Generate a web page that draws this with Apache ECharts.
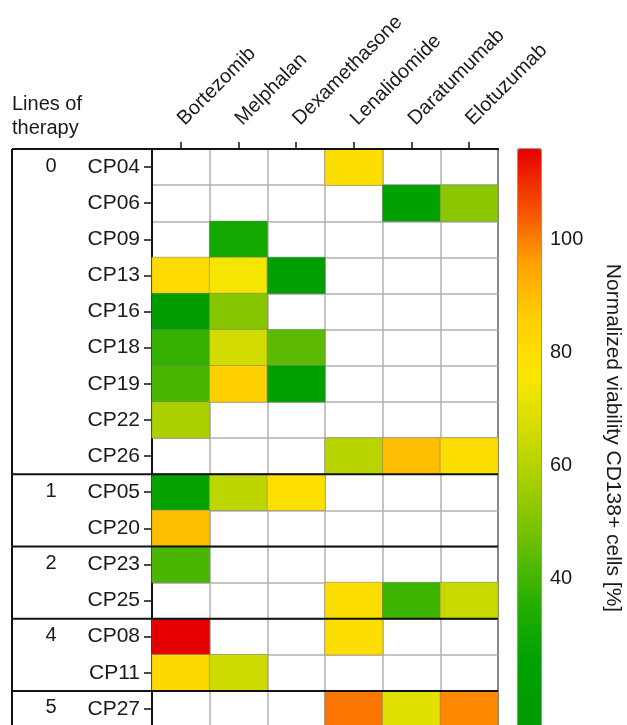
<!DOCTYPE html>
<html>
<head>
<meta charset="utf-8">
<script src="https://cdn.jsdelivr.net/npm/echarts@6/dist/echarts.min.js"></script>
<style>
html,body{margin:0;padding:0;background:#fff;}
#chart{width:627px;height:725px;}
</style>
</head>
<body>
<div id="chart"></div>
<script>
// ---- data ----
var drugs = ['Bortezomib', 'Melphalan', 'Dexamethasone', 'Lenalidomide', 'Daratumumab', 'Elotuzumab'];
var patients = ['CP04','CP06','CP09','CP13','CP16','CP18','CP19','CP22','CP26','CP05','CP20','CP23','CP25','CP08','CP11','CP27'];
var bortezomib    = [null, null, null, 81, 15, 38, 41, 58, null, 27, 90, 41, null, 116, 82, null];
var melphalan     = [null, null, 31, 75, 51, 66, 86, null, null, 62, null, null, null, null, 65, null];
var dexamethasone = [null, null, null, 20, null, 44, 25, null, null, 79, null, null, null, null, null, null];
var lenalidomide  = [80, null, null, null, null, null, null, null, 61, null, null, null, 80, 80, null, 101];
var daratumumab   = [null, 25, null, null, null, null, null, null, 90, null, null, null, 39, null, null, 70];
var elotuzumab    = [null, 52, null, null, null, null, null, null, 80, null, null, null, 64, null, null, 99];
var groupLabels = ['0', '1', '2', '4', '5'];
var groupStart  = [0, 9, 11, 13, 15];
var groupEnd    = [8, 10, 12, 14, 15];
var colorbarTicks = [40, 60, 80, 100];
var scaleMin = -4, scaleMax = 116;

var drugValues = [bortezomib, melphalan, dexamethasone, lenalidomide, daratumumab, elotuzumab];
var heat = [];
drugValues.forEach(function (arr, xi) {
  arr.forEach(function (v, yi) { if (v !== null) heat.push([xi, yi, v]); });
});
var groups = groupStart.map(function (s, i) { return [s, groupEnd[i]]; });

var FONT = 'Liberation Sans, Arial, sans-serif';
var BOX_LEFT = 12, GROUP_LABEL_X = 51;

var chart = echarts.init(document.getElementById('chart'), null, {renderer: 'canvas'});
chart.setOption({
  backgroundColor: '#fff',
  animation: false,
  title: {
    text: 'Lines of\ntherapy', left: 12, top: 92, padding: 0,
    textStyle: {fontFamily: FONT, fontSize: 20, fontWeight: 'normal', color: '#1a1a1a', lineHeight: 24}
  },
  grid: [
    {left: 152, width: 346, top: 149, height: 578, outerBoundsMode: 'none', containLabel: false, show: true, borderColor: '#111', borderWidth: 2, backgroundColor: '#fff'},
    {left: 518, width: 23, top: 149, height: 678, outerBoundsMode: 'none', containLabel: false, show: true, borderColor: '#333', borderWidth: 1, backgroundColor: 'transparent'}
  ],
  xAxis: [
    {
      type: 'category', data: drugs, position: 'top', gridIndex: 0,
      axisLine: {show: true, lineStyle: {color: '#111', width: 2}},
      axisTick: {show: true, alignWithLabel: true, length: 7, lineStyle: {color: '#111', width: 1.5}},
      axisLabel: {rotate: -45, margin: 27, fontFamily: FONT, fontSize: 20, color: '#1a1a1a'},
      splitLine: {show: true, lineStyle: {color: '#b0b0b0', width: 1.5}}
    },
    {type: 'value', gridIndex: 1, show: false, min: 0, max: 1}
  ],
  yAxis: [
    {
      type: 'category', data: patients, inverse: true, gridIndex: 0,
      axisLine: {show: true, lineStyle: {color: '#111', width: 2}},
      axisTick: {show: true, alignWithLabel: true, length: 8, lineStyle: {color: '#111', width: 1.5}},
      axisLabel: {margin: 12, fontFamily: FONT, fontSize: 21, color: '#1a1a1a'},
      splitLine: {show: true, lineStyle: {color: '#b0b0b0', width: 1.5}}
    },
    {
      type: 'value', gridIndex: 1, position: 'left', min: scaleMin, max: scaleMax,
      axisLine: {show: false}, splitLine: {show: false},
      axisTick: {show: true, inside: true, length: 4, customValues: colorbarTicks, lineStyle: {color: '#222', width: 1.2}},
      axisLabel: {show: false}
    },
    {
      type: 'value', gridIndex: 1, position: 'right', min: scaleMin, max: scaleMax,
      axisLine: {show: false}, splitLine: {show: false},
      axisTick: {show: true, inside: true, length: 4, customValues: colorbarTicks, lineStyle: {color: '#222', width: 1.2}},
      axisLabel: {show: true, customValues: colorbarTicks, margin: 9, fontFamily: FONT, fontSize: 20, color: '#1a1a1a'}
    }
  ],
  visualMap: {
    type: 'continuous', seriesIndex: 0, min: scaleMin, max: scaleMax,
    calculable: false, left: 518, top: 149, itemWidth: 23, itemHeight: 678, padding: 0,
    inRange: {color: ['#009400','#009600','#009b00','#00a200','#28af00','#69be00','#a0cd00','#d2dc00','#fae600','#ffd000','#ffa000','#f54b00','#e50000']}
  },
  graphic: [{
    type: 'text', x: 613, y: 438, rotation: -Math.PI / 2,
    style: {text: 'Normalized viability CD138+ cells [%]', font: '21px ' + FONT, fill: '#1a1a1a', align: 'center', verticalAlign: 'middle'}
  }],
  series: [
    {
      type: 'heatmap', xAxisIndex: 0, yAxisIndex: 0, data: heat,
      itemStyle: {borderColor: 'rgba(120,120,120,0.45)', borderWidth: 1},
      emphasis: {disabled: true}, z: 2
    },
    {
      type: 'custom', xAxisIndex: 0, yAxisIndex: 0, data: groups, silent: true, z: 5,
      renderItem: function (params, api) {
        var cs = params.coordSys;
        var band = api.size([0, 1])[1];
        var s = api.value(0), e = api.value(1);
        var yTop = api.coord([0, s])[1] - band / 2;
        var yBot = api.coord([0, e])[1] + band / 2;
        var yMid = api.coord([0, s])[1];
        return {
          type: 'group',
          children: [
            {type: 'line', shape: {x1: BOX_LEFT, y1: yTop, x2: cs.x + cs.width, y2: yTop}, style: {stroke: '#111', lineWidth: 2}},
            {type: 'line', shape: {x1: BOX_LEFT, y1: yTop, x2: BOX_LEFT, y2: yBot}, style: {stroke: '#111', lineWidth: 2}},
            {type: 'text', x: GROUP_LABEL_X, y: yMid - 1, style: {text: groupLabels[params.dataIndex], font: '20px ' + FONT, fill: '#1a1a1a', align: 'center', verticalAlign: 'middle'}}
          ]
        };
      }
    }
  ]
});
</script>
</body>
</html>
